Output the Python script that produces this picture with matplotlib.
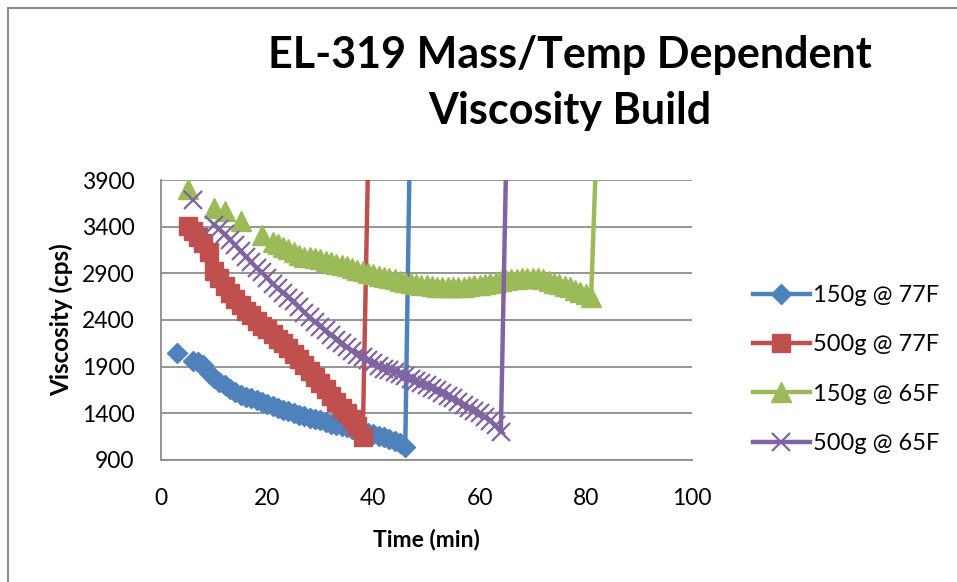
import numpy as np
import matplotlib
matplotlib.use('Agg')
import matplotlib.pyplot as plt
from matplotlib.patches import Rectangle

# ______________________________________________________________________________
# DATA (nan = missing reading -> gap in the line)
# ______________________________________________________________________________

nan = np.nan

t_150_77 = [3, 4, 6, 7, 8, 9, 10, 11, 12, 13, 14, 15, 16, 17, 18, 19, 20, 21, 22, 23, 24, 25, 26,
            27, 28, 29, 30, 31, 32, 33, 34, 35, 36, 37, 38, 39, 40, 41, 42, 43, 44, 45, 46, 47]
v_150_77 = [2050, nan, 1960, 1950, 1920, 1830, 1780, 1740, 1700, 1660, 1630, 1600, 1580, 1560,
            1540, 1520, 1500, 1480, 1460, 1440, 1420, 1400, 1380, 1370, 1350, 1340, 1330, 1310,
            1290, 1270, 1260, 1250, 1230, 1220, 1200, 1190, 1180, 1160, 1150, 1120, 1100, 1080,
            1040, 4800]

t_500_77 = [5, 6, 7, 8, 9, 10, 11, 12, 13, 14, 15, 16, 17, 18, 19, 20, 21, 22, 23, 24, 25, 26,
            27, 28, 29, 30, 31, 32, 33, 34, 35, 36, 37, 38, 39]
v_500_77 = [3410, 3350, 3290, 3230, 3130, 2920, 2850, 2760, 2690, 2620, 2560, 2500, 2450, 2390,
            2340, 2300, 2250, 2200, 2150, 2100, 2040, 1980, 1920, 1850, 1790, 1720, 1660, 1590,
            1520, 1460, 1400, 1340, 1260, 1150, 4100]

t_150_65 = [5, 6, 10, 11, 12, 13, 15, 16, 19, 20] + list(range(21, 83))
v_150_65 = [3800, nan, 3600, nan, 3570, nan, 3460, nan, 3310, nan,
            3240, 3210, 3180, 3160, 3130, 3100, 3080, 3070, 3060, 3050, 3030, 3020, 3000, 2990,
            2980, 2960, 2940, 2920, 2900, 2890, 2870, 2860, 2850, 2840, 2820, 2810, 2800, 2790,
            2780, 2770, 2760, 2750, 2750, 2750, 2750, 2750, 2750, 2760, 2770, 2780, 2790, 2800,
            2810, 2820, 2830, 2840, 2840, 2845, 2850, 2850, 2845, 2835, 2820, 2800, 2785, 2765,
            2750, 2720, 2700, 2680, 2650, 4250]

t_500_65 = [6, 7] + list(range(10, 66))
v_500_65 = [3690, nan,
            3420, 3370, 3320, 3260, 3200, 3140, 3080, 3020, 2960, 2910, 2850, 2790, 2740, 2690,
            2640, 2600, 2540, 2480, 2430, 2380, 2330, 2290, 2240, 2190, 2150, 2110, 2070, 2030,
            2000, 1970, 1940, 1910, 1880, 1860, 1840, 1820, 1800, 1770, 1750, 1720, 1700, 1670,
            1650, 1620, 1590, 1560, 1520, 1490, 1460, 1430, 1400, 1360, 1320, 1270, 1200, 4100]

labels = ['150g @ 77F', '500g @ 77F', '150g @ 65F', '500g @ 65F']
y_ticks = [900, 1400, 1900, 2400, 2900, 3400, 3900]
x_ticks = [0, 20, 40, 60, 80, 100]

# ______________________________________________________________________________
# PLOT
# ______________________________________________________________________________

plt.rcParams['font.family'] = ['Lato', 'DejaVu Sans']

fig = plt.figure(figsize=(9.57, 5.82), dpi=100)
ax = fig.add_axes([161 / 957, 1 - 460 / 582, 531 / 957, 280 / 582])

lw = 3.2
ax.plot(t_150_77, v_150_77, color='#4F81BD', lw=lw, marker='D', ms=10, label=labels[0])
ax.plot(t_500_77, v_500_77, color='#C0504D', lw=lw, marker='s', ms=13, label=labels[1])
ax.plot(t_150_65, v_150_65, color='#9BBB59', lw=lw, marker='^', ms=14, label=labels[2])
ax.plot(t_500_65, v_500_65, color='#8064A2', lw=lw, marker='x', ms=13, mew=1.6, label=labels[3])

ax.set_xlim(0, 100)
ax.set_ylim(900, 3900)
ax.set_xticks(x_ticks)
ax.set_yticks(y_ticks)
ax.tick_params(length=0, labelsize=16.5)
ax.tick_params(axis='y', pad=19)
ax.tick_params(axis='x', pad=20)
ax.grid(axis='y', color='#8c8c8c', lw=1.3)
ax.set_axisbelow(True)
for side in ['top', 'right']:
    ax.spines[side].set_visible(False)
for side in ['left', 'bottom']:
    ax.spines[side].set_color('#8c8c8c')
    ax.spines[side].set_linewidth(1.3)

ax.set_xlabel('Time (min)', fontsize=16.5, fontweight='bold', labelpad=14)
ax.set_ylabel('Viscosity (cps)', fontsize=17.5, fontweight='bold', labelpad=6)

fig.text(570 / 957, 1 - 55 / 582, 'EL-319 Mass/Temp Dependent', ha='center', va='center',
         fontsize=31, fontweight='bold')
fig.text(570 / 957, 1 - 111 / 582, 'Viscosity Build', ha='center', va='center',
         fontsize=31, fontweight='bold')

fig.legend(loc='upper left', bbox_to_anchor=(753 / 957, 1 - 285 / 582), frameon=False,
           fontsize=17, borderpad=0, borderaxespad=0, handlelength=2.4,
           handletextpad=0.15, labelspacing=1.2)

# chart border (left and top edge visible)
fig.patches.append(Rectangle((8 / 957, -0.1), 2, 1.1 - 8 / 582, transform=fig.transFigure,
                             fill=False, edgecolor='#8c8c8c', lw=1.5))

fig.savefig('out.png', dpi=100)
